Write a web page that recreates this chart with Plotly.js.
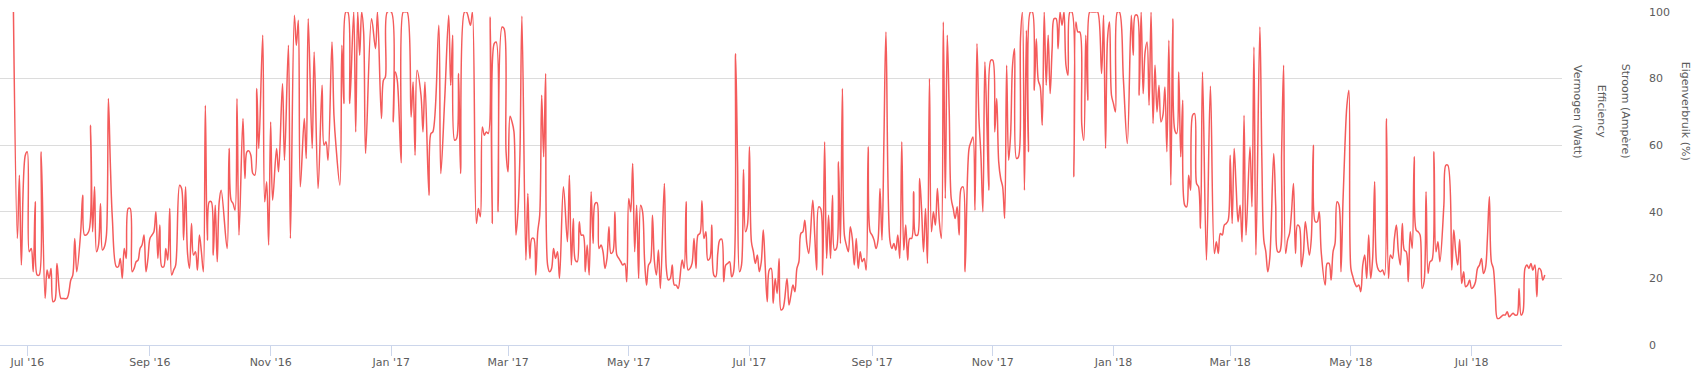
<!DOCTYPE html>
<html>
<head>
<meta charset="utf-8">
<script src="https://cdn.plot.ly/plotly-3.0.1.min.js"></script>
<style>
  html, body { margin: 0; padding: 0; background: #ffffff; }
  #chart { width: 1693px; height: 376px; }
</style>
</head>
<body>
<div id="chart"></div>
<script>
// ---- data ----
// day offsets counted from seriesStart
const seriesStart = '2016-07-01';
const dayOffsets = [
  -7,-5,-4,-3,-1,0,1,2,3,4,5,6,7,9,10,11,12,13,14,15,17,18,20,22,23,24,25,27,28,29,31,32,33,34,35,36,37,38,39,40,41,42,43,45,46,47,48,49,50,51,52,53,54,55,56,57,58,59,60,61,62,63,64,65,66,67,68,69,70,71,72,73,74,75,77,78,79,80,81,82,83,84,85,86,87,88,89,90,91,92,93,94,95,96,97,98,
  101,102,103,104,105,106,107,109,110,111,112,113,114,115,116,117,119,120,121,122,123,124,126,127,129,130,132,133,135,136,137,138,140,141,142,144,145,147,149,150,151,152,154,155,156,158,159,160,161,162,163,165,166,167,168,169,170,171,174,176,177,179,180,181,182,184,185,186,187,189,190,191,192,194,195,196,197,199,200,201,203,204,205,208,209,211,213,
  214,215,216,217,218,219,221,222,224,225,227,228,229,230,231,232,233,234,235,236,237,238,240,241,242,243,244,245,246,247,248,249,250,252,253,254,255,256,257,258,259,260,261,262,263,264,265,266,267,268,269,271,273,274,275,276,277,278,279,280,281,282,283,284,285,286,287,288,289,290,291,292,293,294,295,296,297,298,299,300,301,302,303,304,305,306,307,308,309,310,311,312,313,314,315,316,317,318,319,320,322,323,
  324,325,326,327,328,329,331,332,333,334,335,336,337,338,339,340,341,342,343,344,345,346,347,348,349,350,351,352,353,354,355,356,357,358,359,360,361,362,363,364,365,366,367,368,369,370,371,372,373,374,375,376,377,378,379,380,381,382,384,385,386,387,388,389,390,391,392,393,394,395,397,398,399,400,401,402,403,404,405,406,407,408,409,410,411,412,413,414,415,416,417,418,419,420,421,422,423,424,425,426,427,428,429,430,431,432,433,434,436,437,
  438,439,440,441,442,443,444,445,446,447,448,449,450,451,452,453,454,455,456,457,458,459,460,461,462,463,464,465,466,467,468,469,470,471,472,473,474,476,477,478,479,480,481,482,483,484,485,486,487,488,489,490,491,492,493,494,495,496,497,498,499,500,501,502,503,504,505,506,507,508,509,510,511,512,513,514,515,516,517,518,519,520,521,522,523,524,525,526,527,528,529,530,531,532,533,534,535,536,537,538,539,540,541,543,544,545,546,547,548,549,550,
  551,552,554,556,558,559,560,561,562,563,564,565,566,567,568,569,570,571,572,573,574,575,576,577,578,579,580,581,582,583,584,585,586,587,588,589,590,591,592,593,594,596,598,600,601,602,603,604,605,606,607,608,609,610,611,612,613,614,615,616,618,619,620,621,623,624,625,626,627,628,630,631,632,633,634,635,636,637,638,639,640,641,642,643,644,645,646,648,649,650,651,652,653,654,656,657,658,659,660,661,662,663,
  664,665,666,667,668,669,670,671,672,673,674,675,676,677,678,679,680,681,682,683,684,685,686,687,688,689,690,691,692,693,694,695,696,697,698,699,700,701,702,703,704,705,706,707,708,709,710,711,712,713,714,716,717,718,720,721,722,723,724,725,726,727,728,729,730,731,732,733,734,735,736,737,738,739,740,741,742,743,744,745,746,747,748,749,750,751,752,753,754,755,756,757,758,759,760,761,762,763,764,765,766,767
];
const eigenverbruik = [
  100,32,51,24,57,58,28,29,22,43,21,21,58,14,22.5,20,23,13,13.5,24.5,14,14,14,19.5,21,32,22,34,45,33,34,66,34,47.5,28,30,42.5,28.5,29.5,33,74,54,38,23.5,23.5,26,20,29,26,41,41,22,23,25,25.5,29,30,33,22,26,32,33,34,40,26,36,23.5,23.5,29,25.5,41,21,22.5,24,48,47,31.5,47.5,27.5,23,36.5,27,28,22.5,33,28,22,72,31.5,43,43,27,42,25,43,46.5,
  29,59,43.5,42.5,40.5,74,33,68,50,58,58.3,57,51.5,51,77,59,93,43,49,30,67,43.5,59,52,78.5,55.5,90,32,99,90,97.5,47.5,68,56,98,59,88,47,78,60,61,55.5,91,69,60,48,90,72.5,100,100,72.5,100,64,100,87,100,94,57.5,98,89,100,68,79.5,80.5,100,100,67,82,79.5,54.7,100,100,100,68.5,79,57,82.5,75,64,79,45,63.5,64,96,51.5,74,99,
  78,93,61.5,62,81.5,51.5,100,100,96,100,36.5,41,38.5,65.5,63,64,63.5,98.5,36.5,90.5,91,40,95.5,95,58,52,68.7,67,64,33,40,57,98.7,25.5,45.5,26,32,32,21,34,39,75,56.5,81.5,24,22,23,29,26,28,20,47.5,31,51,24,38,25.5,25,37,33,33,22,30,21,46,30.5,42.5,42.7,29,30,28,23,26,35.5,27.5,28,40,27,26,25,24,24.5,19,44,40,54.5,28,42,20,42,40,25.5,18,24,25,39,25,21,28.5,17,48.5,23,
  19.5,20,24,18,18,17,25.5,23,43,22.5,23,24.5,32,23,33,33.5,43.3,32,34,25.5,26,36,21,20.5,27.5,31.5,31.8,19,24,24.5,25,20.5,22,87.5,55,22,24,52.7,34,36,59.5,31,28,24.5,27,22,25,34.5,23.5,13,22.5,23,12.5,20,15.5,26,10.5,11,20,12,15,18,16,23,25,33.5,34,37.5,30.5,27.5,43.5,33,22.5,41.5,41,21,61,26,39,26,45,28.5,29,55,30.5,77,33,30,28,35.5,32,24,32,23,28,25,26,22.5,59.5,34,33,31.5,29,31.5,47,31.5,62,94,31.5,29,
  30.5,28.5,33,26,61,28.5,36,25.5,32,32,46,33,33,50,41,28,41,24.5,80,34,40,36,47,37,32,97,44,93,70,44,41,38,41.5,33,47,47.5,22,59,61,62.5,40.5,90.5,68,57,40,85,67,46.5,85.5,85.5,64,74,55,50,47.5,38,84,55.5,63,84,89,56,56.5,92,100,46.5,94.5,58,100,100,76.5,92,79.5,77.5,66,100,78,93,75.5,89,98,98,89,100,96,100,84,81,100,100,50.5,97,94,94,66,61.5,93,73.5,100,100,100,100,100,81.5,99,59,92,97,75,72.5,70,
  100,100,80,60.5,99,87,99,99,75,100,75.5,88,91,72,100,66.5,84,70,78,67,69,77.5,58,91.5,48,98,64.5,63.5,82,56.5,73.5,42,41.5,51,46.5,69,69.5,48.5,47.5,35,82,25.5,77.7,27.5,31,27.5,33.5,33,36,36.5,37.5,57,36.5,59,47.5,37,42,31,69,33,59.5,41.5,89.5,27,95.5,56,31.5,28,22,26,57.5,42,28,28,58,84,27.5,31.5,33.5,40,48.5,27.5,36,35.5,23.5,27.5,37,27,32,60,37,37,40,28,18,24.5,24.5,19.5,28,30.5,43,42,
  22,43,60,72,76.5,23,20.5,18.5,17.5,18,16,24,27,20,33,20,26,49,24.5,22.5,22,22.5,21,68,20,27,26,32,36,28,24,36.5,28.5,28,19,34,29,56.5,34.5,34,33,17,19,46,21.5,25,25.5,58,28,31,25,42,54,54,22.5,34.5,28,24,31.7,18.5,22,17.5,18,19.5,17,17.5,19,23,24,26,21.5,23,32,44.5,25,23,15,8,8,8.5,9,9,10,8.5,9,9.5,9,9,17,9,10,23,24,23,24.5,22.5,24,14.5,23,22.5,19.5,21
];
const xTickDates = ['2016-07-01','2016-09-01','2016-11-01','2017-01-01','2017-03-01','2017-05-01','2017-07-01','2017-09-01','2017-11-01','2018-01-01','2018-03-01','2018-05-01','2018-07-01'];
const xTickLabels = ["Jul '16","Sep '16","Nov '16","Jan '17","Mar '17","May '17","Jul '17","Sep '17","Nov '17","Jan '18","Mar '18","May '18","Jul '18"];
const yTickValues = [0, 20, 40, 60, 80, 100];
const yTickLabels = ['0', '20', '40', '60', '80', '100'];
const axisTitles = ['Vermogen (Watt)', 'Efficiency', 'Stroom (Ampère)', 'Eigenverbruik (%)'];

if (dayOffsets.length !== eigenverbruik.length) {
  throw new Error('length mismatch ' + dayOffsets.length + ' vs ' + eigenverbruik.length);
}

const base = Date.parse(seriesStart + 'T00:00:00Z');
const dates = dayOffsets.map(d => new Date(base + d * 86400000).toISOString().slice(0, 10));

const FONT = '"DejaVu Sans", Verdana, sans-serif';
const GREY = '#5c5c5c';

const trace = {
  type: 'scatter',
  mode: 'lines',
  x: dates,
  y: eigenverbruik,
  line: { color: '#f45b5b', width: 1.5, shape: 'spline', smoothing: 1 },
  hoverinfo: 'skip',
  showlegend: false
};

const titleX = [1.0100, 1.0249, 1.0403, 1.0787];
const annotations = axisTitles.map((t, i) => ({
  text: t,
  xref: 'paper', yref: 'paper',
  x: titleX[i], y: 0.7006,
  xanchor: 'center', yanchor: 'middle',
  textangle: 90,
  showarrow: false,
  font: { family: FONT, size: 11, color: GREY }
}));

const layout = {
  width: 1693,
  height: 376,
  margin: { l: 0, r: 131, t: 12, b: 31, pad: 0 },
  paper_bgcolor: '#ffffff',
  plot_bgcolor: '#ffffff',
  showlegend: false,
  font: { family: FONT, size: 11, color: GREY },
  xaxis: {
    type: 'date',
    range: ['2016-06-17 05:00', '2018-08-15 17:00'],
    tickmode: 'array',
    tickvals: xTickDates,
    ticktext: xTickLabels,
    ticks: 'outside',
    ticklen: 10,
    tickwidth: 1,
    tickcolor: '#ccd6eb',
    ticklabelstandoff: -3,
    showline: true,
    linecolor: '#ccd6eb',
    linewidth: 1,
    showgrid: false,
    zeroline: false,
    tickfont: { family: FONT, size: 11, color: GREY },
    fixedrange: true
  },
  yaxis: {
    side: 'right',
    range: [0, 100],
    tickmode: 'array',
    tickvals: yTickValues,
    ticktext: yTickLabels,
    showgrid: true,
    gridcolor: '#dcdcdc',
    gridwidth: 1,
    zeroline: false,
    showline: false,
    ticks: '',
    ticklabelstandoff: 86,
    tickfont: { family: FONT, size: 11, color: GREY },
    fixedrange: true
  },
  annotations: annotations
};

Plotly.newPlot('chart', [trace], layout, { displayModeBar: false, staticPlot: true });
</script>
</body>
</html>
